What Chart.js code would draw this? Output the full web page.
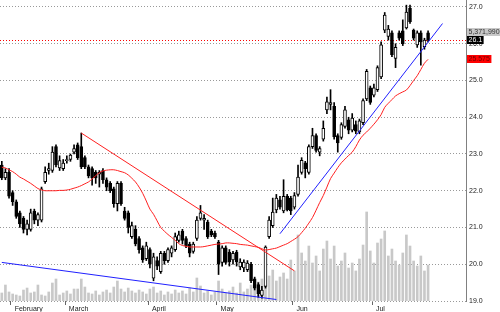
<!DOCTYPE html>
<html>
<head>
<meta charset="utf-8">
<script src="https://cdn.jsdelivr.net/npm/chart.js@4.4.0/dist/chart.umd.min.js"></script>
<style>
  html, body { margin: 0; padding: 0; background: #fff; }
  #wrap { width: 500px; height: 312px; }
</style>
</head>
<body>
<div id="wrap"><canvas id="myChart"></canvas></div>
<script>
// daily candles, one slot per trading day
const openP = [
  22.70, 22.35, 22.50, 21.95, 21.70, 21.40, 21.25, 20.95, 20.95, 21.45,
  21.20, 21.20, 22.25, 22.55, 22.55, 23.20, 22.62, 22.60, 22.82, 22.85,
  23.05, 23.25, 23.20, 22.90, 22.65, 22.60, 22.50, 22.45, 22.55, 22.30,
  22.20, 22.05, 21.65, 22.20, 21.45, 21.40, 20.75, 20.95, 20.70, 20.45,
  20.15, 20.40, 19.62, 20.10, 19.80, 20.30, 20.10, 20.30, 20.40, 20.65,
  20.90, 20.70, 20.55, 20.35, 20.70, 21.25, 21.20, 21.15, 20.90, 20.85,
  20.60, 20.05, 20.45, 20.33, 20.12, 20.33, 19.93, 19.90, 19.85, 20.00,
  19.60, 19.45, 19.15, 19.40, 20.75, 21.05, 21.48, 21.75, 21.45, 21.85,
  21.80, 21.55, 21.90, 22.50, 22.76, 22.50, 23.20, 23.50, 23.05, 23.40,
  24.20, 24.35, 24.30, 23.50, 23.45, 23.75, 23.93, 23.65, 23.80, 23.60,
  23.85, 24.50, 24.80, 24.60, 24.75, 25.10, 26.37, 26.20, 26.30, 25.60,
  26.30, 26.35, 26.43, 26.97, 26.37, 25.97, 26.30, 25.92, 26.30
];
const highP = [
  22.80, 22.60, 22.60, 22.00, 21.75, 21.45, 21.30, 21.20, 21.50, 21.50,
  21.40, 22.10, 22.65, 22.75, 23.20, 23.25, 22.95, 22.85, 22.95, 23.00,
  23.25, 23.30, 23.57, 22.95, 22.70, 22.65, 22.55, 22.55, 22.60, 22.35,
  22.25, 22.10, 22.25, 22.25, 21.55, 21.45, 21.15, 21.05, 20.75, 20.50,
  20.60, 20.45, 20.30, 20.20, 20.35, 20.35, 20.45, 20.50, 20.85, 20.90,
  20.95, 20.75, 20.60, 20.60, 21.30, 21.60, 21.35, 21.20, 20.95, 20.90,
  20.65, 20.50, 20.50, 20.40, 20.35, 20.38, 20.15, 20.12, 20.10, 20.05,
  19.65, 19.50, 19.40, 20.50, 21.30, 21.80, 21.90, 21.85, 22.30, 21.90,
  21.85, 21.95, 22.70, 22.90, 22.80, 23.25, 23.70, 23.55, 23.20, 23.90,
  24.55, 24.75, 24.40, 23.55, 23.85, 24.30, 24.00, 24.10, 23.90, 23.95,
  24.50, 25.30, 24.85, 24.90, 25.40, 26.05, 26.85, 26.50, 26.35, 26.00,
  26.35, 26.65, 27.05, 27.05, 26.40, 26.35, 26.35, 26.15, 26.35
];
const lowP = [
  22.30, 22.30, 21.80, 21.60, 21.25, 21.00, 20.85, 20.80, 20.90, 21.10,
  21.05, 21.15, 22.20, 22.45, 22.50, 22.65, 22.55, 22.55, 22.75, 22.80,
  23.00, 22.85, 22.60, 22.60, 22.35, 22.15, 22.20, 22.10, 22.20, 22.00,
  21.95, 21.55, 21.45, 21.60, 21.20, 20.85, 20.70, 20.50, 20.30, 20.05,
  20.10, 19.90, 19.55, 19.85, 19.75, 20.00, 20.05, 20.20, 20.35, 20.60,
  20.55, 20.45, 20.20, 20.30, 20.65, 21.20, 20.95, 20.70, 20.75, 20.70,
  19.72, 19.95, 20.00, 19.95, 20.00, 19.95, 19.85, 19.80, 19.80, 19.50,
  19.30, 19.10, 19.08, 19.35, 20.70, 21.00, 21.40, 21.50, 21.40, 21.45,
  21.35, 21.50, 21.85, 22.45, 22.35, 22.45, 23.15, 23.05, 22.95, 23.35,
  24.10, 24.20, 23.40, 23.05, 23.40, 23.70, 23.55, 23.60, 23.55, 23.55,
  23.80, 24.45, 24.35, 24.55, 24.70, 25.05, 26.30, 26.10, 25.65, 25.35,
  26.10, 25.95, 26.40, 26.55, 26.10, 25.90, 25.42, 25.85, 26.05
];
const closeP = [
  22.35, 22.50, 21.85, 21.70, 21.30, 21.10, 20.95, 21.10, 21.40, 21.20,
  21.35, 22.05, 22.50, 22.60, 23.05, 22.70, 22.82, 22.75, 22.85, 22.97,
  23.15, 22.90, 22.65, 22.65, 22.40, 22.35, 22.35, 22.50, 22.30, 22.10,
  22.00, 21.65, 22.20, 21.65, 21.25, 21.00, 21.05, 20.55, 20.40, 20.12,
  20.50, 20.00, 20.20, 19.95, 20.30, 20.10, 20.40, 20.45, 20.75, 20.80,
  20.65, 20.50, 20.30, 20.55, 21.20, 21.40, 21.25, 20.75, 20.80, 20.75,
  20.00, 20.45, 20.05, 20.06, 20.30, 20.06, 20.06, 20.06, 20.03, 19.55,
  19.35, 19.20, 19.30, 20.47, 21.20, 21.42, 21.80, 21.55, 21.85, 21.48,
  21.45, 21.87, 22.37, 22.83, 22.60, 23.20, 23.50, 23.10, 23.15, 23.70,
  24.42, 24.40, 23.47, 23.30, 23.80, 24.20, 23.65, 23.98, 23.62, 23.90,
  24.45, 25.25, 24.40, 24.80, 25.35, 25.97, 26.78, 26.40, 25.70, 25.90,
  26.15, 26.00, 26.86, 26.60, 26.15, 26.30, 26.05, 26.10, 26.10
];
// volume in millions of shares
const volume = [
  1.20, 2.39, 1.35, 1.05, 0.90, 0.75, 1.64, 1.94, 1.20, 1.35,
  2.39, 0.90, 0.75, 1.35, 2.69, 3.29, 0.90, 1.20, 1.50, 1.05,
  1.79, 1.79, 3.29, 2.09, 1.20, 1.05, 1.50, 0.90, 1.35, 1.64,
  1.20, 2.09, 2.99, 1.79, 1.35, 1.94, 1.50, 1.20, 1.64, 1.35,
  1.05, 1.79, 2.09, 1.20, 1.50, 0.90, 1.35, 1.05, 1.64, 1.20,
  1.50, 1.05, 1.94, 1.35, 3.44, 2.24, 1.20, 1.50, 0.90, 1.35,
  2.99, 1.79, 1.20, 1.50, 2.09, 1.20, 2.69, 1.35, 1.79, 2.39,
  3.14, 2.84, 3.29, 4.49, 3.74, 4.63, 2.99, 3.59, 4.19, 3.29,
  6.13, 4.49, 9.87, 7.18, 5.98, 8.22, 5.68, 6.73, 4.49, 7.77,
  8.97, 6.28, 8.22, 5.23, 5.98, 7.18, 4.93, 5.68, 4.49, 6.28,
  8.37, 13.31, 7.48, 5.68, 8.67, 9.27, 10.47, 6.73, 7.77, 5.98,
  5.38, 7.18, 9.87, 8.22, 5.98, 5.23, 6.73, 4.49, 5.37199
];
// moving average (red curve)
const avg = [
  22.64, 22.62, 22.57, 22.52, 22.45, 22.37, 22.32, 22.26, 22.20, 22.13,
  22.06, 22.02, 22.00, 22.00, 22.00, 22.00, 22.01, 22.01, 22.02, 22.04,
  22.07, 22.10, 22.14, 22.19, 22.24, 22.32, 22.41, 22.49, 22.54, 22.56,
  22.57, 22.57, 22.55, 22.52, 22.49, 22.43, 22.34, 22.24, 22.10, 21.93,
  21.72, 21.50, 21.36, 21.18, 21.00, 20.90, 20.81, 20.73, 20.65, 20.56,
  20.51, 20.49, 20.47, 20.47, 20.47, 20.47, 20.48, 20.50, 20.52, 20.54,
  20.55, 20.56, 20.58, 20.58, 20.57, 20.56, 20.54, 20.53, 20.52, 20.50,
  20.48, 20.46, 20.42, 20.39, 20.40, 20.42, 20.44, 20.48, 20.52, 20.56,
  20.62, 20.68, 20.75, 20.86, 20.98, 21.12, 21.27, 21.47, 21.68, 21.87,
  22.10, 22.33, 22.48, 22.63, 22.76, 22.86, 22.96, 23.05, 23.20, 23.38,
  23.51, 23.60, 23.70, 23.81, 23.93, 24.07, 24.27, 24.38, 24.48, 24.58,
  24.64, 24.69, 24.74, 24.86, 25.00, 25.13, 25.30, 25.47, 25.575
];

const monthNames = ["February", "March", "April", "May", "Jun", "Jul"];
const monthStart = [3, 18, 41, 60, 81, 103];
const slots = 129;

// trendlines: [slot, price]
const redTrend = [[22, 23.57], [81, 19.82]];
const blueLow = [[0, 20.05], [76, 19.04]];
const blueHigh = [[77, 20.83], [122, 26.55]];

const lastClose = closeP[closeP.length - 1];
const lastAvg = avg[avg.length - 1];
const lastVolume = Math.round(volume[volume.length - 1] * 1e6);

const labels = [];
for (let i = 0; i < slots; i++) labels.push("");
monthStart.forEach((d, k) => (labels[d] = monthNames[k]));

const bodies = openP.map((o, i) => [Math.min(o, closeP[i]), Math.max(o, closeP[i])]);
const wicks = lowP.map((l, i) => [l, highP[i]]);
const bodyColors = openP.map((o, i) => (closeP[i] >= o ? "#ffffff" : "#000000"));

function segment(pts) {
  const arr = new Array(slots).fill(null);
  pts.forEach((p) => (arr[p[0]] = p[1]));
  return arr;
}

const FONT = '"Liberation Sans", Arial, sans-serif';

const priceTags = {
  id: "priceTags",
  beforeDatasetsDraw(chart) {
    const { ctx, chartArea, scales } = chart;
    const py = Math.round(scales.y.getPixelForValue(lastClose)) + 0.5;
    ctx.save();
    ctx.strokeStyle = "#ff0000";
    ctx.lineWidth = 1;
    ctx.setLineDash([1, 2]);
    ctx.beginPath();
    ctx.moveTo(chartArea.left, py);
    ctx.lineTo(chartArea.right, py);
    ctx.stroke();
    ctx.restore();
  },
  afterDraw(chart) {
    const { ctx, chartArea, scales } = chart;
    const x = chartArea.right + 1;
    ctx.save();
    ctx.font = "7px " + FONT;
    ctx.textBaseline = "middle";
    function tag(text, cy, bg, fg) {
      const w = ctx.measureText(text).width + 3;
      ctx.fillStyle = bg;
      ctx.fillRect(x, Math.round(cy) - 4, w, 8);
      ctx.fillStyle = fg;
      ctx.fillText(text, x + 1.5, Math.round(cy) + 0.5);
    }
    const cy = scales.y.getPixelForValue(lastClose);
    tag(lastVolume.toLocaleString("en-US"), cy - 8, "#c8c8c8", "#333333");
    tag(lastClose.toFixed(1), cy, "#000000", "#ffffff");
    tag(lastAvg.toFixed(3), scales.y.getPixelForValue(lastAvg), "#ff0000", "#700000");
    ctx.restore();
  },
};

const ctx = document.getElementById("myChart");

new Chart(ctx, {
  type: "bar",
  data: {
    labels: labels,
    datasets: [
      {
        type: "line",
        data: segment(redTrend),
        borderColor: "#ff2020",
        borderWidth: 1,
        pointRadius: 0,
        spanGaps: true,
        order: 0,
      },
      {
        type: "line",
        data: segment(blueLow),
        borderColor: "#2020ff",
        borderWidth: 1,
        pointRadius: 0,
        spanGaps: true,
        order: 0,
      },
      {
        type: "line",
        data: segment(blueHigh),
        borderColor: "#2020ff",
        borderWidth: 1,
        pointRadius: 0,
        spanGaps: true,
        order: 0,
      },
      {
        type: "line",
        data: avg,
        borderColor: "#ff2020",
        borderWidth: 1,
        pointRadius: 0,
        tension: 0.3,
        order: 1,
      },
      {
        data: bodies,
        backgroundColor: bodyColors,
        borderColor: "#000000",
        borderWidth: 1,
        borderSkipped: false,
        barThickness: 3,
        minBarLength: 1,
        grouped: false,
        order: 2,
      },
      {
        data: wicks,
        backgroundColor: "#000000",
        barThickness: 1,
        grouped: false,
        order: 3,
      },
      {
        data: volume,
        yAxisID: "vol",
        backgroundColor: "#c8c8c8",
        barThickness: 2,
        grouped: false,
        order: 4,
      },
    ],
  },
  options: {
    responsive: true,
    maintainAspectRatio: false,
    animation: false,
    layout: { padding: 0 },
    plugins: {
      legend: { display: false },
      tooltip: { enabled: false },
    },
    scales: {
      x: {
        offset: true,
        grid: {
          display: true,
          drawOnChartArea: false,
          drawTicks: true,
          tickLength: 4,
          color: "rgba(0,0,0,0)",
          tickColor: (c) => (c.tick && c.tick.label ? "#666666" : "rgba(0,0,0,0)"),
        },
        border: { display: false },
        ticks: {
          autoSkip: false,
          maxRotation: 0,
          align: "start",
          labelOffset: 2,
          padding: 0,
          color: "#222222",
          font: { size: 7, family: FONT },
        },
        afterFit: (s) => {
          s.height = 11;
          s.paddingLeft = 0;
          s.paddingRight = 0;
        },
      },
      y: {
        position: "right",
        min: 19,
        max: 27.19,
        ticks: {
          stepSize: 1,
          includeBounds: false,
          padding: 3,
          color: "#222222",
          font: { size: 7, family: FONT },
          callback: (v) => v.toFixed(1),
        },
        grid: { color: "#999999", drawTicks: false },
        border: { display: true, color: "#808080", dash: [1, 2] },
        afterFit: (s) => {
          s.width = 34;
          s.paddingTop = 0;
          s.paddingBottom = 0;
        },
      },
      vol: {
        display: false,
        min: 0,
        max: 45,
      },
    },
  },
  plugins: [priceTags],
});
</script>
</body>
</html>
